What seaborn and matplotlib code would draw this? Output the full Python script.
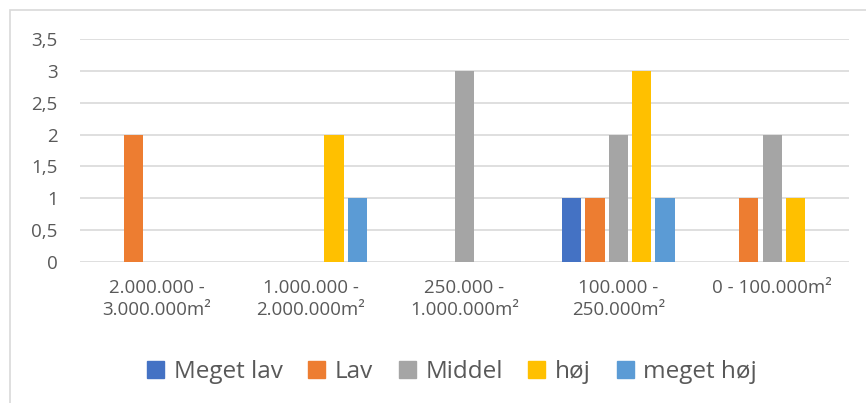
import pandas as pd
import seaborn as sns
import matplotlib.pyplot as plt
from matplotlib.patches import Rectangle

# kategorier (arealstørrelse) og serier
kategorier = ['2.000.000 -\n3.000.000m²', '1.000.000 -\n2.000.000m²',
              '250.000 -\n1.000.000m²', '100.000 -\n250.000m²', '0 - 100.000m²']
serier = ['Meget lav', 'Lav', 'Middel', 'høj', 'meget høj']

meget_lav = [0, 0, 0, 1, 0]
lav = [2, 0, 0, 1, 1]
middel = [0, 0, 3, 2, 2]
hoj = [0, 2, 0, 3, 1]
meget_hoj = [0, 1, 0, 1, 0]

farver = ['#4472C4', '#ED7D31', '#A5A5A5', '#FFC000', '#5B9BD5']
yticks = [0, 0.5, 1, 1.5, 2, 2.5, 3, 3.5]

rows = []
for navn, vals in zip(serier, [meget_lav, lav, middel, hoj, meget_hoj]):
    for kat, v in zip(kategorier, vals):
        rows.append({'kategori': kat, 'serie': navn, 'antal': v})
df = pd.DataFrame(rows)

sns.set_style('white')
plt.rcParams['font.family'] = ['Open Sans', 'DejaVu Sans']
tekst = '#595959'

fig = plt.figure(figsize=(8.66, 4.03), dpi=100)
ax = fig.add_axes([80 / 866, 1 - 262 / 403, (849 - 80) / 866, (262 - 39) / 403])

sns.barplot(data=df, x='kategori', y='antal', hue='serie', order=kategorier,
            hue_order=serier, palette=farver, saturation=1, width=0.76, gap=0.18,
            linewidth=0, errorbar=None, ax=ax)

ax.set_ylim(0, 3.5)
ax.set_yticks(yticks)
ax.set_yticklabels([f'{t:g}'.replace('.', ',') for t in yticks])
ax.yaxis.grid(True, color='#D9D9D9', linewidth=1.2)
ax.set_axisbelow(True)
ax.set_xlabel('')
ax.set_ylabel('')
for s in ax.spines.values():
    s.set_visible(False)
ax.tick_params(axis='both', length=0, labelsize=13.5, colors=tekst)
ax.tick_params(axis='x', pad=12)
ax.tick_params(axis='y', pad=16)
for lbl in ax.get_xticklabels():
    lbl.set_linespacing(1.3)

ax.get_legend().remove()
handles = [Rectangle((0, 0), 1, 1, color=c) for c in farver]
leg = fig.legend(handles, serier, loc='center', bbox_to_anchor=(452 / 866, 1 - 372 / 403),
                 ncol=5, frameon=False, fontsize=17.5, handlelength=0.7, handleheight=0.7,
                 handletextpad=0.4, columnspacing=1.05)
for t in leg.get_texts():
    t.set_color(tekst)

# ramme om diagramområdet
fig.patches.append(Rectangle((10 / 866, -0.1), 1.2, 1 - 10 / 403 + 0.1,
                             transform=fig.transFigure, fill=False,
                             edgecolor='#D9D9D9', linewidth=1.2))

fig.savefig('out.png', dpi=100)
